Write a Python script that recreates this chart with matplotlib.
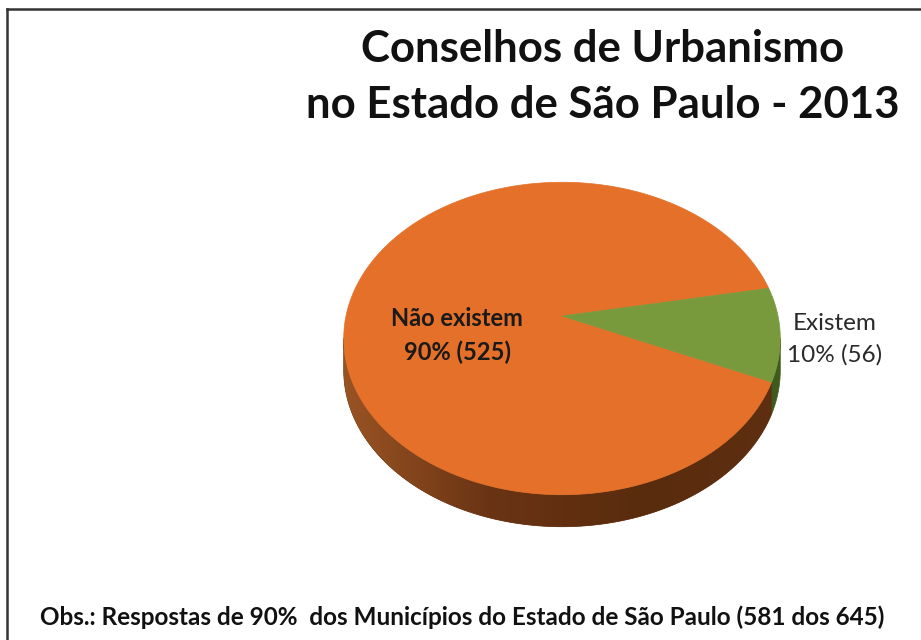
import numpy as np
import matplotlib.pyplot as plt
from matplotlib.patches import Polygon
from matplotlib.colors import LinearSegmentedColormap

# survey answers
labels = ['Não existem', 'Existem']
counts = [525, 56]
value_labels = ['90% (525)', '10% (56)']
colors = ['#E4702A', '#789A3C']
side_colors = ['#6A3414', '#3E5A1C']

title_lines = ['Conselhos de Urbanismo', 'no Estado de São Paulo - 2013']
note = 'Obs.: Respostas de 90%  dos Municípios do Estado de São Paulo (581 dos 645)'

# pie geometry (pixel space), with a bit of perspective
cx, cy = 562, 316
R, S, k = 216, 153, 0.144
depth = 32
start = 10.7


def proj(t):
    t = np.radians(t)
    d = 1 + k * np.sin(t)
    return cx + R * np.cos(t) / d, cy - S * np.sin(t) / d


fig = plt.figure(figsize=(9.21, 6.4), dpi=100)
ax = fig.add_axes([0, 0, 1, 1])
ax.set_xlim(0, 921)
ax.set_ylim(640, 0)
ax.axis('off')

# frame
ax.plot([7, 921], [9, 9], color='#333333', lw=1.8)
ax.plot([7, 7], [9, 640], color='#333333', lw=1.8)

fracs = np.array(counts) / sum(counts)
angles = start + 360 * np.concatenate([[0], np.cumsum(fracs)])

# front edge of the disc runs between the silhouette points
front_a = 180 + np.degrees(np.arcsin(k))
front_b = 360 - np.degrees(np.arcsin(k))

side_cmap = LinearSegmentedColormap.from_list('side', ['#9A5424', '#6A3414', '#5A2C0E', '#5E2F10'])

for i in range(len(counts)):
    a0, a1 = angles[i], angles[i + 1]
    # unwrap onto the front range
    for off in (0, 360, -360):
        lo = max(a0, front_a + off)
        hi = min(a1, front_b + off)
        if hi <= lo:
            continue
        t = np.linspace(lo, hi, 200)
        x, y = proj(t)
        pts = np.column_stack([np.concatenate([x, x[::-1]]),
                               np.concatenate([y, y[::-1] + depth])])
        side = Polygon(pts, closed=True, facecolor=side_colors[i],
                       edgecolor=side_colors[i], lw=0.5)
        ax.add_patch(side)
        if i == 0:
            grad = np.linspace(0, 1, 256).reshape(1, -1)
            im = ax.imshow(grad, cmap=side_cmap, extent=[cx - R - 5, cx + R + 5, 560, 300],
                           aspect='auto', zorder=2)
            im.set_clip_path(side)

# top face
for i in range(len(counts)):
    t = np.linspace(angles[i], angles[i + 1], 300)
    x, y = proj(t)
    pts = np.column_stack([np.concatenate([[cx], x]), np.concatenate([[cy], y])])
    ax.add_patch(Polygon(pts, closed=True, facecolor=colors[i],
                         edgecolor=colors[i], lw=0.5, zorder=3))

font = 'Lato'
ax.text(457, 318, labels[0], ha='center', va='center', fontsize=17,
        fontweight='bold', color='#1a1a1a', family=font, zorder=4)
ax.text(457, 352, value_labels[0], ha='center', va='center', fontsize=17,
        fontweight='bold', color='#1a1a1a', family=font, zorder=4)
ax.text(835, 323, labels[1], ha='center', va='center', fontsize=17.5,
        color='#2a2a2a', family=font, zorder=4)
ax.text(835, 355, value_labels[1], ha='center', va='center', fontsize=17.5,
        color='#2a2a2a', family=font, zorder=4)

ax.text(603, 62, title_lines[0], ha='center', va='baseline', fontsize=31.5,
        fontweight='bold', color='#111111', family=font)
ax.text(603, 118, title_lines[1], ha='center', va='baseline', fontsize=31.5,
        fontweight='bold', color='#111111', family=font)

ax.text(462, 617, note, ha='center', va='center', fontsize=17.5,
        fontweight='bold', color='#111111', family=font)

fig.savefig('out.png', dpi=100)
